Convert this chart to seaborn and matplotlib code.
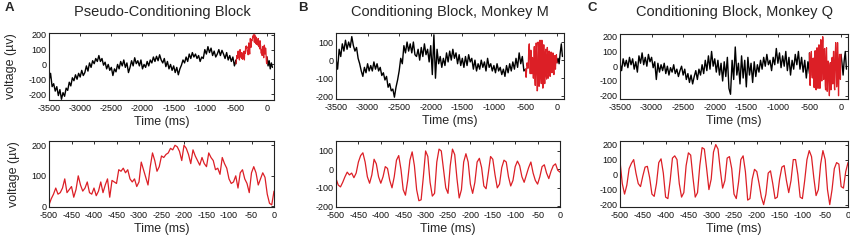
import numpy as np
import pandas as pd
import matplotlib
matplotlib.use("Agg")
import matplotlib.pyplot as plt
import seaborn as sns

sns.set_style("white")
plt.rcParams["font.family"] = ["Liberation Sans", "DejaVu Sans"]
plt.rcParams["axes.unicode_minus"] = False

# ---------------- data (µV) ----------------
# black part of the long traces, -3500 .. -500 ms, 25 ms apart
pre_A = [-110, -60, -150, -130, -180, -150, -210, -170, -235, -190, -215, -160, -175, -120, -145, -90,
         -110, -70, -100, -60, -85, -40, -75, -55, -10, -45, 10, -20, 25, 5, 40, 20, 60, 20, 40, -5,
         15, -30, 0, -40, -20, -75, -30, -50, 0, -30, 20, -10, 30, -20, 10, -55, -20, 25, -10, 45,
         5, 25, -10, 30, -30, 0, -20, 20, -10, 30, 10, 50, 20, 55, 25, 65, 30, 10, 40, -15, 20, -30,
         0, -40, -10, -55, -20, -70, -30, -5, 30, 10, 50, 20, 70, 40, 80, 50, 70, 40, 60, 20, 50, 40,
         100, 70, 120, 80, 110, 60, 90, 50, 70, 100, 60, 95, 70, 40, 80, 30, 60, 20, 50, -10, 30]
pre_B = [10, -50, 60, 20, 90, 50, 110, 60, 100, 70, 130, 80, 50, 70, 10, -20, -60, -90, -40, -70,
         -20, -60, -30, -60, -10, -50, -20, -60, -40, -85, -70, -110, -90, -150, -130, -170, -160,
         -205, -150, -110, -60, 10, -20, 80, 40, 100, 50, 90, 40, 100, 30, 20, 60, 0, 70, 20, 90, 30,
         60, -10, 80, -80, 140, -100, 60, -20, 20, -40, 10, -30, 40, -10, 50, 0, 60, 10, 40, -20, 30,
         -30, 10, -40, 20, -30, 30, -10, 10, -50, 0, -60, -20, -50, 0, -40, -10, -60, 10, -40, -20,
         -60, -30, -70, -20, -60, -40, -80, -50, -90, -30, -70, -20, -60, -10, -50, 10, -40, 40, -20,
         20, -60, -50]
pre_C = [20, -30, 50, 0, 40, -10, 60, 10, 50, -20, 30, -40, 70, 20, 90, 10, 60, 0, 80, 30, 60, -10,
         30, -90, 20, -40, 10, -30, 20, -50, 0, -60, -10, -40, 10, -50, -20, -70, -30, 0, -60, -20,
         -90, -50, -110, -60, -120, -70, -30, -90, -20, -60, 10, -50, 40, -30, 70, -20, 100, 0, 50,
         -40, 40, -60, 20, -100, 30, -70, 60, -150, -190, 40, -90, 130, -60, 20, -120, 70, -80, 40,
         -140, 60, -60, 20, -110, 30, -70, 10, -40, 40, -20, 60, 0, 80, 10, 40, -30, 60, 10, 120, 20,
         90, -10, 70, 0, 100, -30, 60, -60, 40, -20, 80, 10, 100, -20, 60, -40, 40, -80, 30, -50]

# last 500 ms (red), -500 .. 0 ms, 5 ms apart
win_A = [5, 25, 40, 60, 40, 45, 60, 90, 45, 55, 65, 30, 55, 100, 70, 50, 60, 80, 45, 40, 60, 35, 50,
         80, 45, 70, 90, 30, 85, 80, 75, 120, 115, 125, 110, 120, 90, 80, 90, 65, 80, 145, 120, 95,
         70, 130, 175, 150, 115, 130, 165, 160, 170, 175, 190, 185, 200, 195, 180, 150, 200, 190,
         170, 140, 185, 165, 150, 135, 160, 140, 130, 175, 160, 150, 120, 125, 105, 160, 140, 125,
         90, 75, 80, 100, 60, 110, 120, 90, 75, 45, 110, 130, 110, 70, 90, 110, 95, 40, 10, 5, 50]
win_B = [-50, -85, -95, -70, -40, -15, -30, -20, -45, -20, 40, 75, 90, 40, -40, -75, -30, 55, 30,
         -40, -75, -40, 15, 5, -60, -100, -40, 50, 75, 0, -110, -140, -60, 50, 95, 20, -110, -170,
         -165, -40, 100, 70, -70, -145, -130, 40, 110, 100, 0, -100, -130, 20, 110, 80, -50, -155,
         -110, 40, 85, 40, -80, -130, -70, 40, 60, 10, -90, -105, -20, 70, 55, -30, -100, -80, 10,
         50, 40, -40, -90, -60, 15, 45, 20, -40, -70, -30, 10, 40, -20, -60, -80, -40, 15, 25, -20,
         -50, -10, 20, 30, -5, -15]
win_C = [90, -60, -130, -70, 40, 75, 100, 10, -60, -80, -10, 50, 55, -20, -130, -145, -60, 80, 105,
         10, -150, -160, -40, 110, 125, 100, -60, -150, -120, 60, 145, 130, -20, -150, -120, 60, 180,
         170, 40, -100, -30, 150, 200, 170, 30, -90, -40, 110, 120, 40, -130, -160, -50, 100, 125,
         20, -170, -160, -30, 35, 20, -60, -150, -200, -130, 10, 25, -60, -160, -150, -30, 50, 60,
         -40, -120, -40, 100, 100, 0, -150, -160, -40, 100, 160, 120, -20, -140, -100, 70, 160, 100,
         -100, -200, -100, 40, 80, 70, -80, -90, 20, 80]

# short black continuation after 0 ms
post_A = [-10, 25, -30, 10, -20]
post_B = [10, -20, 40, 90, 20]
post_C = [20, -60, 40, 100, -20]

panel_letters = ["A", "B", "C"]
titles = ["Pseudo-Conditioning Block", "Conditioning Block, Monkey M", "Conditioning Block, Monkey Q"]
top_yticks = [[-200, -100, 0, 100, 200], [-200, -100, 0, 100], [-200, -100, 0, 100, 200]]
bot_yticks = [[0, 100, 200], [-200, -100, 0, 100], [-200, -100, 0, 100, 200]]
top_xticks = [-3500, -3000, -2500, -2000, -1500, -1000, -500, 0]
bot_xticks = [-500, -450, -400, -350, -300, -250, -200, -150, -100, -50, 0]
bot_xticklabels = ["-500", "-450", "-400", "-450", "-300", "-250", "-200", "-150", "-100", "-50", "0"]

# ---------------- layout ----------------
W, H = 850, 240
fig = plt.figure(figsize=(W / 100, H / 100), dpi=100)

def rect(l, r, t, b):
    return [l / W, 1 - b / H, (r - l) / W, (b - t) / H]

top_rects = [rect(49, 274, 33, 100), rect(336, 564, 33, 99), rect(620, 848, 34, 99)]
bot_rects = [rect(49, 274, 141, 207), rect(336, 560, 141, 207), rect(620, 848, 141, 207)]
top_ylims = [(-240, 212), (-215, 150), (-222, 218)]
bot_ylims = [(-2, 214), (-204, 154), (-216, 224)]

RED = "#dc1f26"
pres = [pre_A, pre_B, pre_C]
wins = [win_A, win_B, win_C]
posts = [post_A, post_B, post_C]

def style(ax, fs=6.5):
    for s in ax.spines.values():
        s.set_visible(True)
        s.set_linewidth(0.8)
        s.set_color("#222222")
    ax.tick_params(direction="in", length=2.5, width=0.6, top=True, right=True,
                   labelsize=fs, colors="#111111")
    ax.tick_params(axis="x", pad=3)
    ax.tick_params(axis="y", pad=2)
    ax.grid(False)

for i in range(3):
    pre, win, post = pres[i], wins[i], posts[i]
    t_pre = np.linspace(-3500, -500, len(pre))
    t_win = np.linspace(-500, 0, len(win))
    t_post = np.linspace(15, 85, len(post))
    df_pre = pd.DataFrame({"t": np.r_[t_pre, t_win[0]], "v": np.r_[pre, win[0]]})
    df_win = pd.DataFrame({"t": t_win, "v": win})
    df_post = pd.DataFrame({"t": np.r_[t_win[-1], t_post], "v": np.r_[win[-1], post]})

    ax = fig.add_axes(top_rects[i])
    sns.lineplot(data=df_pre, x="t", y="v", ax=ax, color="black", lw=1.0, estimator=None, sort=False)
    sns.lineplot(data=df_post, x="t", y="v", ax=ax, color="black", lw=1.0, estimator=None, sort=False)
    sns.lineplot(data=df_win, x="t", y="v", ax=ax, color=RED, lw=0.9, estimator=None, sort=False)
    ax.set_xlim(-3500, 110)
    ax.set_ylim(*top_ylims[i])
    ax.set_xticks(top_xticks)
    ax.set_yticks(top_yticks[i])
    ax.set_xlabel("Time (ms)", fontsize=9, labelpad=2)
    ax.set_ylabel("voltage (µv)" if i == 0 else "", fontsize=9, labelpad=8)
    style(ax)

    ax2 = fig.add_axes(bot_rects[i])
    sns.lineplot(data=df_win, x="t", y="v", ax=ax2, color=RED, lw=0.9, estimator=None, sort=False)
    ax2.set_xlim(-500, 0)
    ax2.set_ylim(*bot_ylims[i])
    ax2.set_xticks(bot_xticks)
    ax2.set_xticklabels(bot_xticklabels)
    ax2.set_yticks(bot_yticks[i])
    ax2.set_xlabel("Time (ms)", fontsize=9, labelpad=2)
    ax2.set_ylabel("voltage (µv)" if i == 0 else "", fontsize=9, labelpad=8)
    style(ax2)

# panel letters and titles
letter_x = [5, 298, 588]
title_x = [162, 450, 734]
for i in range(3):
    fig.text(letter_x[i] / W, 1 - 8 / H, panel_letters[i], fontsize=9.5, fontweight="bold",
             ha="left", va="center")
    fig.text(title_x[i] / W, 1 - 12 / H, titles[i], fontsize=10.5, ha="center", va="center")

fig.savefig("out.png", dpi=100)
